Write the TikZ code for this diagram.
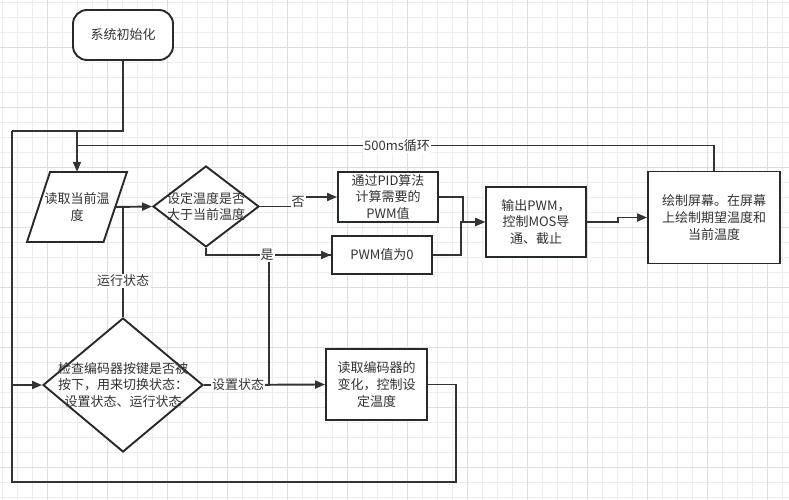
\documentclass[tikz,border=0pt]{standalone}
\usepackage{fontspec}
\setmainfont{Noto Sans CJK SC}
\usetikzlibrary{shapes.geometric,arrows.meta}
\definecolor{ink}{HTML}{333333}
\definecolor{bord}{HTML}{26292E}
\definecolor{gmin}{HTML}{EDEDED}
\definecolor{gmaj}{HTML}{DEDEDE}
\newcommand\fs{\fontsize{13}{16.7}\selectfont}
\tikzset{
  box/.style={draw=bord, line width=1.9pt, fill=white, inner sep=0pt, text=ink, align=center, font=\fs},
  txt/.style={text=ink, align=center, inner sep=0pt, font=\fs},
  lbl/.style={fill=white, text=ink, inner sep=1pt, font=\fs},
  conn/.style={draw=ink, line width=1.9pt},
  arr/.style={conn, -{Triangle[length=10pt,width=8pt]}},
  gminor/.style={draw=gmin, line width=0.9pt},
  gmajor/.style={draw=gmaj, line width=0.9pt}
}
\begin{document}
\begin{tikzpicture}[x=1pt,y=-1pt]
\useasboundingbox (0,0) rectangle (789,500);
\fill[white] (0,0) rectangle (789,500);
% grid
\foreach \i in {0,...,52} \draw[gminor] ({2+15*\i},0) -- ({2+15*\i},500);
\foreach \i in {0,...,33} \draw[gminor] (0,{2+15*\i}) -- (789,{2+15*\i});
\foreach \i in {0,...,12} \draw[gmajor] ({47+60*\i},0) -- ({47+60*\i},500);
\foreach \i in {0,...,7} \draw[gmajor] (0,{47+60*\i}) -- (789,{47+60*\i});

% nodes
\node[box, rounded corners=14pt, minimum width=100pt, minimum height=50pt] (start) at (123,35) {系统初始化};
\draw[draw=bord, line width=1.9pt, fill=white] (50,172) -- (127,172) -- (103.5,242) -- (27,242) -- cycle;
\node[txt, minimum width=100pt, minimum height=70pt] (read) at (77,207) {读取当前温\\度};
\node[box, diamond, minimum width=106pt, minimum height=81pt] (d1) at (206,206.5) {};
\node[txt] (d1t) at (d1.center) {设定温度是否\\大于当前温度};
\node[box, minimum width=100pt, minimum height=50pt] (pid) at (388,197) {通过PID算法\\计算需要的\\PWM值};
\node[box, minimum width=100pt, minimum height=38pt] (pwm0) at (382,255) {PWM值为0};
\node[box, minimum width=100pt, minimum height=70pt] (out) at (536,222) {输出PWM，\\控制MOS导\\通、截止};
\node[box, minimum width=132pt, minimum height=92pt] (scr) at (714,217.5) {绘制屏幕。在屏幕\\上绘制期望温度和\\当前温度};
\node[box, diamond, minimum width=160pt, minimum height=134pt] (d2) at (123,385) {};
\node[txt] (d2t) at (d2.center) {检查编码器按键是否被\\按下，用来切换状态：\\设置状态、运行状态};
\node[box, minimum width=101pt, minimum height=71pt] (enc) at (376.5,384.5) {读取编码器的\\变化，控制设\\定温度};

% helper coordinates
\coordinate (lt) at (12,131);
\coordinate (jt) at (77,131);
\coordinate (lm) at (12,385);
\coordinate (rb) at (456,482);
\coordinate (j5) at (77,145.5);
\coordinate (rE) at (115,207);
\coordinate (rJ) at (123,207);

% connectors
\draw[conn] (start.south) |- (lt);
\draw[arr] (jt) -- (read.north);
\draw[conn] (scr.north) |- (j5);
\draw[conn] (enc.east) -| (rb) -| (lt);
\draw[arr] (lm) -- (d2.west);
\draw[arr] (rE) -- (d1.west);
\draw[conn] (rJ) -- (d2.north);
\draw[arr] (d1.east) -- ++(39,0) |- (pid.west);
\draw[conn] (d2.east) -- ++(65,0) |- (pwm0.west);
\draw[arr] (d1.south) |- (pwm0.west);
\draw[arr] (d2.east) -- (enc.west);
\draw[arr] (pid.east) -- ++(24,0) |- (out.west);
\draw[arr] (pwm0.east) -- ++(28,0) |- (out.west);
\draw[arr] (out.east) -- ++(31,0) |- (scr.west);

% labels
\node[lbl] (l500) at (397,145.5) {500ms循环};
\node[lbl] (lno) at (298,202) {否};
\node[lbl] (lyes) at (267,255) {是};
\node[lbl] (lrun) at (123,281) {运行状态};
\node[lbl] (lset) at (238,385) {设置状态};
\end{tikzpicture}
\end{document}
